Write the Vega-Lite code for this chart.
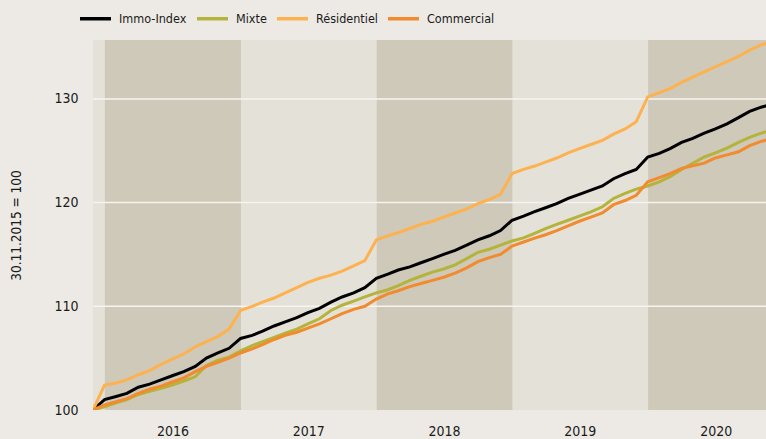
{
  "$schema": "https://vega.github.io/schema/vega-lite/v6.json",
  "width": 673,
  "height": 370,
  "autosize": {"type": "none"},
  "padding": {"left": 93, "top": 40, "right": 0, "bottom": 29},
  "background": "#edeae5",
  "config": {
    "view": {"fill": "#e4e1d9", "stroke": null},
    "axis": {"domain": false, "ticks": false, "grid": false, "labelFont": "DejaVu Sans Condensed, Liberation Sans Narrow, Liberation Sans", "labelFontSize": 14, "labelColor": "#1a1a1a", "titleFont": "DejaVu Sans Condensed, Liberation Sans Narrow, Liberation Sans", "titleFontWeight": "normal", "titleColor": "#1a1a1a"},
    "legend": {"labelFont": "DejaVu Sans Condensed, Liberation Sans Narrow, Liberation Sans", "labelFontSize": 12.5, "labelColor": "#1a1a1a"}
  },
  "layer": [
    {
      "data": {"values": [
        {"start": "2016-01-01", "end": "2017-01-01"},
        {"start": "2018-01-01", "end": "2019-01-01"},
        {"start": "2020-01-01", "end": "2021-01-01"}
      ]},
      "mark": {"type": "rect", "color": "#cfc9b9", "clip": true},
      "encoding": {
        "x": {"field": "start", "type": "temporal",
          "scale": {"type": "utc", "domain": [{"year": 2015, "month": 11, "date": 30, "utc": true}, {"year": 2020, "month": 11, "date": 13, "utc": true}]},
          "axis": {"title": null, "format": "%Y", "labelPadding": 14, "labelFlush": false, "labelOverlap": false,
            "values": [{"year": 2016, "month": 7, "date": 1, "utc": true}, {"year": 2017, "month": 7, "date": 1, "utc": true}, {"year": 2018, "month": 7, "date": 1, "utc": true}, {"year": 2019, "month": 7, "date": 1, "utc": true}, {"year": 2020, "month": 7, "date": 1, "utc": true}]}},
        "x2": {"field": "end"}
      }
    },
    {
      "data": {"values": [{"g": 110}, {"g": 120}, {"g": 130}]},
      "mark": {"type": "rule", "color": "#f6f4f0", "strokeWidth": 1.5},
      "encoding": {
        "y": {"field": "g", "type": "quantitative",
          "scale": {"domain": [100, 135.68], "nice": false, "zero": false},
          "axis": {"title": "30.11.2015 = 100", "values": [100, 110, 120, 130], "labelPadding": 15, "titleFontSize": 13.5, "titleX": -70, "titleBaseline": "bottom"}}
      }
    },
    {
      "data": {"values": [
        {"d":"2015-11-30","s":"Immo-Index","v":100},{"d":"2015-11-30","s":"Mixte","v":100},{"d":"2015-11-30","s":"Résidentiel","v":100},{"d":"2015-11-30","s":"Commercial","v":100},
        {"d":"2015-12-31","s":"Immo-Index","v":101.0},{"d":"2015-12-31","s":"Mixte","v":100.3},{"d":"2015-12-31","s":"Résidentiel","v":102.4},{"d":"2015-12-31","s":"Commercial","v":100.5},
        {"d":"2016-01-31","s":"Immo-Index","v":101.3},{"d":"2016-01-31","s":"Mixte","v":100.7},{"d":"2016-01-31","s":"Résidentiel","v":102.6},{"d":"2016-01-31","s":"Commercial","v":100.8},
        {"d":"2016-02-29","s":"Immo-Index","v":101.6},{"d":"2016-02-29","s":"Mixte","v":101.0},{"d":"2016-02-29","s":"Résidentiel","v":102.9},{"d":"2016-02-29","s":"Commercial","v":101.1},
        {"d":"2016-03-31","s":"Immo-Index","v":102.2},{"d":"2016-03-31","s":"Mixte","v":101.5},{"d":"2016-03-31","s":"Résidentiel","v":103.4},{"d":"2016-03-31","s":"Commercial","v":101.6},
        {"d":"2016-04-30","s":"Immo-Index","v":102.5},{"d":"2016-04-30","s":"Mixte","v":101.8},{"d":"2016-04-30","s":"Résidentiel","v":103.8},{"d":"2016-04-30","s":"Commercial","v":102.0},
        {"d":"2016-05-31","s":"Immo-Index","v":102.9},{"d":"2016-05-31","s":"Mixte","v":102.1},{"d":"2016-05-31","s":"Résidentiel","v":104.4},{"d":"2016-05-31","s":"Commercial","v":102.3},
        {"d":"2016-06-30","s":"Immo-Index","v":103.3},{"d":"2016-06-30","s":"Mixte","v":102.4},{"d":"2016-06-30","s":"Résidentiel","v":104.9},{"d":"2016-06-30","s":"Commercial","v":102.7},
        {"d":"2016-07-31","s":"Immo-Index","v":103.7},{"d":"2016-07-31","s":"Mixte","v":102.8},{"d":"2016-07-31","s":"Résidentiel","v":105.4},{"d":"2016-07-31","s":"Commercial","v":103.1},
        {"d":"2016-08-31","s":"Immo-Index","v":104.2},{"d":"2016-08-31","s":"Mixte","v":103.2},{"d":"2016-08-31","s":"Résidentiel","v":106.1},{"d":"2016-08-31","s":"Commercial","v":103.7},
        {"d":"2016-09-30","s":"Immo-Index","v":105.0},{"d":"2016-09-30","s":"Mixte","v":104.3},{"d":"2016-09-30","s":"Résidentiel","v":106.6},{"d":"2016-09-30","s":"Commercial","v":104.2},
        {"d":"2016-10-31","s":"Immo-Index","v":105.5},{"d":"2016-10-31","s":"Mixte","v":104.8},{"d":"2016-10-31","s":"Résidentiel","v":107.1},{"d":"2016-10-31","s":"Commercial","v":104.6},
        {"d":"2016-11-30","s":"Immo-Index","v":105.95},{"d":"2016-11-30","s":"Mixte","v":105.1},{"d":"2016-11-30","s":"Résidentiel","v":107.8},{"d":"2016-11-30","s":"Commercial","v":105.0},
        {"d":"2016-12-31","s":"Immo-Index","v":106.9},{"d":"2016-12-31","s":"Mixte","v":105.7},{"d":"2016-12-31","s":"Résidentiel","v":109.6},{"d":"2016-12-31","s":"Commercial","v":105.5},
        {"d":"2017-01-31","s":"Immo-Index","v":107.2},{"d":"2017-01-31","s":"Mixte","v":106.2},{"d":"2017-01-31","s":"Résidentiel","v":110.0},{"d":"2017-01-31","s":"Commercial","v":105.9},
        {"d":"2017-02-28","s":"Immo-Index","v":107.6},{"d":"2017-02-28","s":"Mixte","v":106.6},{"d":"2017-02-28","s":"Résidentiel","v":110.4},{"d":"2017-02-28","s":"Commercial","v":106.3},
        {"d":"2017-03-31","s":"Immo-Index","v":108.1},{"d":"2017-03-31","s":"Mixte","v":107.0},{"d":"2017-03-31","s":"Résidentiel","v":110.8},{"d":"2017-03-31","s":"Commercial","v":106.8},
        {"d":"2017-04-30","s":"Immo-Index","v":108.5},{"d":"2017-04-30","s":"Mixte","v":107.4},{"d":"2017-04-30","s":"Résidentiel","v":111.3},{"d":"2017-04-30","s":"Commercial","v":107.2},
        {"d":"2017-05-31","s":"Immo-Index","v":108.9},{"d":"2017-05-31","s":"Mixte","v":107.8},{"d":"2017-05-31","s":"Résidentiel","v":111.8},{"d":"2017-05-31","s":"Commercial","v":107.5},
        {"d":"2017-06-30","s":"Immo-Index","v":109.4},{"d":"2017-06-30","s":"Mixte","v":108.3},{"d":"2017-06-30","s":"Résidentiel","v":112.3},{"d":"2017-06-30","s":"Commercial","v":107.9},
        {"d":"2017-07-31","s":"Immo-Index","v":109.8},{"d":"2017-07-31","s":"Mixte","v":108.8},{"d":"2017-07-31","s":"Résidentiel","v":112.7},{"d":"2017-07-31","s":"Commercial","v":108.3},
        {"d":"2017-08-31","s":"Immo-Index","v":110.4},{"d":"2017-08-31","s":"Mixte","v":109.6},{"d":"2017-08-31","s":"Résidentiel","v":113.0},{"d":"2017-08-31","s":"Commercial","v":108.8},
        {"d":"2017-09-30","s":"Immo-Index","v":110.9},{"d":"2017-09-30","s":"Mixte","v":110.1},{"d":"2017-09-30","s":"Résidentiel","v":113.4},{"d":"2017-09-30","s":"Commercial","v":109.3},
        {"d":"2017-10-31","s":"Immo-Index","v":111.3},{"d":"2017-10-31","s":"Mixte","v":110.5},{"d":"2017-10-31","s":"Résidentiel","v":113.9},{"d":"2017-10-31","s":"Commercial","v":109.7},
        {"d":"2017-11-30","s":"Immo-Index","v":111.8},{"d":"2017-11-30","s":"Mixte","v":110.9},{"d":"2017-11-30","s":"Résidentiel","v":114.4},{"d":"2017-11-30","s":"Commercial","v":110.0},
        {"d":"2017-12-31","s":"Immo-Index","v":112.7},{"d":"2017-12-31","s":"Mixte","v":111.3},{"d":"2017-12-31","s":"Résidentiel","v":116.4},{"d":"2017-12-31","s":"Commercial","v":110.7},
        {"d":"2018-01-31","s":"Immo-Index","v":113.1},{"d":"2018-01-31","s":"Mixte","v":111.6},{"d":"2018-01-31","s":"Résidentiel","v":116.8},{"d":"2018-01-31","s":"Commercial","v":111.2},
        {"d":"2018-02-28","s":"Immo-Index","v":113.5},{"d":"2018-02-28","s":"Mixte","v":112.0},{"d":"2018-02-28","s":"Résidentiel","v":117.1},{"d":"2018-02-28","s":"Commercial","v":111.5},
        {"d":"2018-03-31","s":"Immo-Index","v":113.8},{"d":"2018-03-31","s":"Mixte","v":112.5},{"d":"2018-03-31","s":"Résidentiel","v":117.5},{"d":"2018-03-31","s":"Commercial","v":111.9},
        {"d":"2018-04-30","s":"Immo-Index","v":114.2},{"d":"2018-04-30","s":"Mixte","v":112.9},{"d":"2018-04-30","s":"Résidentiel","v":117.9},{"d":"2018-04-30","s":"Commercial","v":112.2},
        {"d":"2018-05-31","s":"Immo-Index","v":114.6},{"d":"2018-05-31","s":"Mixte","v":113.3},{"d":"2018-05-31","s":"Résidentiel","v":118.2},{"d":"2018-05-31","s":"Commercial","v":112.5},
        {"d":"2018-06-30","s":"Immo-Index","v":115.0},{"d":"2018-06-30","s":"Mixte","v":113.6},{"d":"2018-06-30","s":"Résidentiel","v":118.6},{"d":"2018-06-30","s":"Commercial","v":112.8},
        {"d":"2018-07-31","s":"Immo-Index","v":115.4},{"d":"2018-07-31","s":"Mixte","v":114.0},{"d":"2018-07-31","s":"Résidentiel","v":119.0},{"d":"2018-07-31","s":"Commercial","v":113.2},
        {"d":"2018-08-31","s":"Immo-Index","v":115.9},{"d":"2018-08-31","s":"Mixte","v":114.6},{"d":"2018-08-31","s":"Résidentiel","v":119.4},{"d":"2018-08-31","s":"Commercial","v":113.7},
        {"d":"2018-09-30","s":"Immo-Index","v":116.4},{"d":"2018-09-30","s":"Mixte","v":115.2},{"d":"2018-09-30","s":"Résidentiel","v":119.9},{"d":"2018-09-30","s":"Commercial","v":114.3},
        {"d":"2018-10-31","s":"Immo-Index","v":116.8},{"d":"2018-10-31","s":"Mixte","v":115.5},{"d":"2018-10-31","s":"Résidentiel","v":120.3},{"d":"2018-10-31","s":"Commercial","v":114.7},
        {"d":"2018-11-30","s":"Immo-Index","v":117.3},{"d":"2018-11-30","s":"Mixte","v":115.9},{"d":"2018-11-30","s":"Résidentiel","v":120.8},{"d":"2018-11-30","s":"Commercial","v":115.0},
        {"d":"2018-12-31","s":"Immo-Index","v":118.3},{"d":"2018-12-31","s":"Mixte","v":116.3},{"d":"2018-12-31","s":"Résidentiel","v":122.8},{"d":"2018-12-31","s":"Commercial","v":115.8},
        {"d":"2019-01-31","s":"Immo-Index","v":118.7},{"d":"2019-01-31","s":"Mixte","v":116.6},{"d":"2019-01-31","s":"Résidentiel","v":123.2},{"d":"2019-01-31","s":"Commercial","v":116.2},
        {"d":"2019-02-28","s":"Immo-Index","v":119.1},{"d":"2019-02-28","s":"Mixte","v":117.0},{"d":"2019-02-28","s":"Résidentiel","v":123.5},{"d":"2019-02-28","s":"Commercial","v":116.55},
        {"d":"2019-03-31","s":"Immo-Index","v":119.5},{"d":"2019-03-31","s":"Mixte","v":117.5},{"d":"2019-03-31","s":"Résidentiel","v":123.9},{"d":"2019-03-31","s":"Commercial","v":116.9},
        {"d":"2019-04-30","s":"Immo-Index","v":119.9},{"d":"2019-04-30","s":"Mixte","v":117.9},{"d":"2019-04-30","s":"Résidentiel","v":124.3},{"d":"2019-04-30","s":"Commercial","v":117.3},
        {"d":"2019-05-31","s":"Immo-Index","v":120.4},{"d":"2019-05-31","s":"Mixte","v":118.3},{"d":"2019-05-31","s":"Résidentiel","v":124.8},{"d":"2019-05-31","s":"Commercial","v":117.75},
        {"d":"2019-06-30","s":"Immo-Index","v":120.8},{"d":"2019-06-30","s":"Mixte","v":118.7},{"d":"2019-06-30","s":"Résidentiel","v":125.2},{"d":"2019-06-30","s":"Commercial","v":118.2},
        {"d":"2019-07-31","s":"Immo-Index","v":121.2},{"d":"2019-07-31","s":"Mixte","v":119.1},{"d":"2019-07-31","s":"Résidentiel","v":125.6},{"d":"2019-07-31","s":"Commercial","v":118.6},
        {"d":"2019-08-31","s":"Immo-Index","v":121.6},{"d":"2019-08-31","s":"Mixte","v":119.6},{"d":"2019-08-31","s":"Résidentiel","v":126.0},{"d":"2019-08-31","s":"Commercial","v":119.0},
        {"d":"2019-09-30","s":"Immo-Index","v":122.3},{"d":"2019-09-30","s":"Mixte","v":120.4},{"d":"2019-09-30","s":"Résidentiel","v":126.6},{"d":"2019-09-30","s":"Commercial","v":119.8},
        {"d":"2019-10-31","s":"Immo-Index","v":122.8},{"d":"2019-10-31","s":"Mixte","v":120.9},{"d":"2019-10-31","s":"Résidentiel","v":127.1},{"d":"2019-10-31","s":"Commercial","v":120.2},
        {"d":"2019-11-30","s":"Immo-Index","v":123.2},{"d":"2019-11-30","s":"Mixte","v":121.3},{"d":"2019-11-30","s":"Résidentiel","v":127.8},{"d":"2019-11-30","s":"Commercial","v":120.7},
        {"d":"2019-12-31","s":"Immo-Index","v":124.4},{"d":"2019-12-31","s":"Mixte","v":121.6},{"d":"2019-12-31","s":"Résidentiel","v":130.2},{"d":"2019-12-31","s":"Commercial","v":122.0},
        {"d":"2020-01-31","s":"Immo-Index","v":124.75},{"d":"2020-01-31","s":"Mixte","v":122.0},{"d":"2020-01-31","s":"Résidentiel","v":130.6},{"d":"2020-01-31","s":"Commercial","v":122.4},
        {"d":"2020-02-29","s":"Immo-Index","v":125.2},{"d":"2020-02-29","s":"Mixte","v":122.5},{"d":"2020-02-29","s":"Résidentiel","v":131.0},{"d":"2020-02-29","s":"Commercial","v":122.8},
        {"d":"2020-03-31","s":"Immo-Index","v":125.8},{"d":"2020-03-31","s":"Mixte","v":123.2},{"d":"2020-03-31","s":"Résidentiel","v":131.6},{"d":"2020-03-31","s":"Commercial","v":123.3},
        {"d":"2020-04-30","s":"Immo-Index","v":126.2},{"d":"2020-04-30","s":"Mixte","v":123.8},{"d":"2020-04-30","s":"Résidentiel","v":132.1},{"d":"2020-04-30","s":"Commercial","v":123.55},
        {"d":"2020-05-31","s":"Immo-Index","v":126.7},{"d":"2020-05-31","s":"Mixte","v":124.4},{"d":"2020-05-31","s":"Résidentiel","v":132.6},{"d":"2020-05-31","s":"Commercial","v":123.8},
        {"d":"2020-06-30","s":"Immo-Index","v":127.1},{"d":"2020-06-30","s":"Mixte","v":124.8},{"d":"2020-06-30","s":"Résidentiel","v":133.1},{"d":"2020-06-30","s":"Commercial","v":124.3},
        {"d":"2020-07-31","s":"Immo-Index","v":127.6},{"d":"2020-07-31","s":"Mixte","v":125.25},{"d":"2020-07-31","s":"Résidentiel","v":133.6},{"d":"2020-07-31","s":"Commercial","v":124.6},
        {"d":"2020-08-31","s":"Immo-Index","v":128.2},{"d":"2020-08-31","s":"Mixte","v":125.8},{"d":"2020-08-31","s":"Résidentiel","v":134.1},{"d":"2020-08-31","s":"Commercial","v":124.9},
        {"d":"2020-09-30","s":"Immo-Index","v":128.8},{"d":"2020-09-30","s":"Mixte","v":126.3},{"d":"2020-09-30","s":"Résidentiel","v":134.7},{"d":"2020-09-30","s":"Commercial","v":125.5},
        {"d":"2020-10-31","s":"Immo-Index","v":129.2},{"d":"2020-10-31","s":"Mixte","v":126.7},{"d":"2020-10-31","s":"Résidentiel","v":135.2},{"d":"2020-10-31","s":"Commercial","v":125.9},
        {"d":"2020-11-30","s":"Immo-Index","v":129.5},{"d":"2020-11-30","s":"Mixte","v":127.0},{"d":"2020-11-30","s":"Résidentiel","v":135.6},{"d":"2020-11-30","s":"Commercial","v":126.2}
      ]},
      "mark": {"type": "line", "strokeWidth": 3, "clip": true, "strokeJoin": "miter"},
      "encoding": {
        "x": {"field": "d", "type": "temporal",
          "scale": {"type": "utc", "domain": [{"year": 2015, "month": 11, "date": 30, "utc": true}, {"year": 2020, "month": 11, "date": 13, "utc": true}]},
          "axis": {"title": null, "format": "%Y", "labelPadding": 14, "labelFlush": false, "labelOverlap": false,
            "values": [{"year": 2016, "month": 7, "date": 1, "utc": true}, {"year": 2017, "month": 7, "date": 1, "utc": true}, {"year": 2018, "month": 7, "date": 1, "utc": true}, {"year": 2019, "month": 7, "date": 1, "utc": true}, {"year": 2020, "month": 7, "date": 1, "utc": true}]}},
        "y": {"field": "v", "type": "quantitative",
          "scale": {"domain": [100, 135.68], "nice": false, "zero": false},
          "axis": {"title": "30.11.2015 = 100", "values": [100, 110, 120, 130], "labelPadding": 15, "titleFontSize": 13.5, "titleX": -70, "titleBaseline": "bottom"}},
        "color": {"field": "s", "type": "nominal",
          "scale": {"domain": ["Immo-Index", "Mixte", "Résidentiel", "Commercial"], "range": ["#000000", "#b4b43c", "#fdb24f", "#f28a2e"]},
          "legend": {"title": null, "orient": "none", "direction": "horizontal", "legendX": -15, "legendY": -39, "padding": 0,
            "symbolType": "stroke", "symbolSize": 961, "symbolStrokeWidth": 3.5, "labelOffset": 6, "columnPadding": 3}},
        "order": {"field": "s", "sort": "descending"}
      }
    }
  ]
}
